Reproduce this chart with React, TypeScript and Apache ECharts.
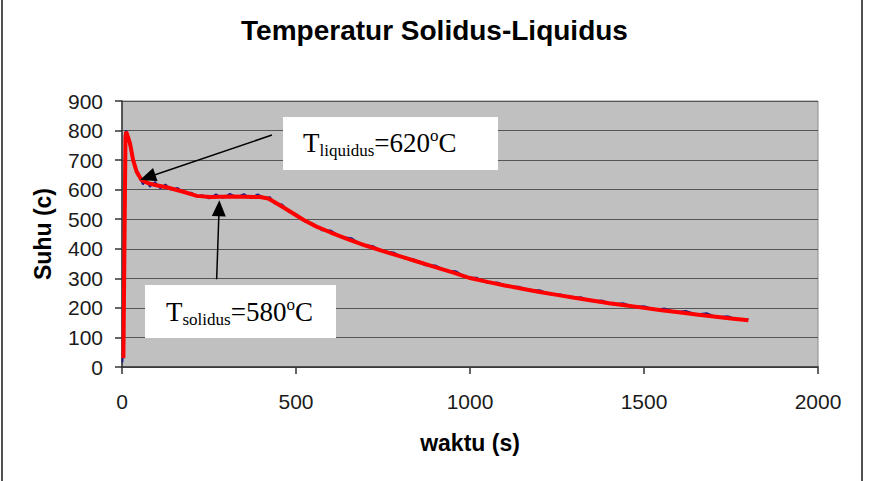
import React, { useEffect, useRef } from "react";
import * as echarts from "echarts";

// ---- Data ----
const redTime = [4, 7, 10, 12, 18, 23, 32, 42, 56, 75, 95, 128, 176, 215, 253, 320, 397, 420, 444, 483, 521, 559, 600, 650, 700, 750, 800, 850, 900, 950, 1000, 1050, 1100, 1150, 1200, 1250, 1300, 1350, 1400, 1450, 1500, 1550, 1600, 1650, 1700, 1750, 1800];
const redTemp = [30, 400, 780, 796, 775, 757, 700, 661, 633, 622, 616, 608, 593, 579, 575, 577, 575, 570, 554, 526, 498, 475, 455, 432, 411, 392, 374, 356, 338, 320, 301, 288, 276, 265, 254, 244, 234, 225, 216, 208, 200, 192, 185, 178, 171, 164, 158];

const blueTime = [1, 3, 6, 9, 12, 16, 22, 30, 40, 52, 60, 70, 80, 95, 110, 125, 140, 160, 180, 200, 215, 230, 250, 270, 290, 310, 330, 350, 370, 390, 410, 425, 440, 460, 480, 500, 525, 550, 575, 600, 630, 660, 690, 720, 750, 780, 810, 840, 870, 900, 930, 960, 990, 1020, 1050, 1080, 1110, 1140, 1170, 1200, 1230, 1260, 1290, 1320, 1350, 1380, 1410, 1440, 1470, 1500, 1530, 1560, 1590, 1620, 1650, 1680, 1710, 1740, 1770, 1800];
const blueTemp = [15, 40, 520, 785, 800, 782, 750, 712, 670, 640, 618, 632, 610, 626, 604, 618, 600, 606, 588, 590, 576, 582, 570, 584, 572, 586, 574, 585, 572, 584, 572, 575, 552, 550, 524, 518, 492, 484, 462, 462, 440, 436, 412, 410, 390, 388, 368, 364, 344, 344, 326, 324, 302, 302, 284, 286, 272, 272, 258, 260, 246, 246, 234, 236, 222, 225, 212, 216, 203, 206, 194, 198, 186, 190, 178, 182, 168, 172, 160, 162];

const xTicks = { min: 0, max: 2000, interval: 500 };
const yTicks = { min: 0, max: 900, interval: 100 };

// annotation arrows in data coordinates: [start, arrow-head centre]
const liquidusArrow = [[431, 785], [74, 642]];
const solidusArrow = [[272, 297], [279, 537]];

const SERIF = '"Liberation Serif", "Times New Roman", serif';
const SANS = '"Liberation Sans", Arial, sans-serif';

function measure(text: string, size: number): number {
  const c = document.createElement("canvas").getContext("2d");
  if (!c) return text.length * size * 0.5;
  c.font = `${size}px ${SERIF}`;
  return c.measureText(text).width;
}

type Part = { t: string; size: number; dy: number };

function labelTexts(x0: number, baseline: number, parts: Part[]) {
  const els: any[] = [];
  let x = x0;
  for (const p of parts) {
    els.push({
      type: "text",
      x,
      y: baseline + p.dy - 0.34 * p.size,
      z: 101,
      style: {
        text: p.t,
        fontSize: p.size,
        fontFamily: SERIF,
        fill: "#000",
        align: "left",
        verticalAlign: "middle",
      },
    });
    x += measure(p.t, p.size);
  }
  return els;
}

export default function App() {
  const ref = useRef<HTMLDivElement>(null);
  useEffect(() => {
    document.body.style.margin = "0";
    if (!ref.current) return;
    const chart = echarts.init(ref.current, undefined, { renderer: "svg" });

    const liq = labelTexts(303, 152, [
      { t: "T", size: 27, dy: 0 },
      { t: "liquidus", size: 17, dy: 4 },
      { t: "=620", size: 27, dy: 0 },
      { t: "o", size: 17, dy: -11 },
      { t: "C", size: 27, dy: 0 },
    ]);
    const sol = labelTexts(166, 321, [
      { t: "T", size: 27, dy: 0 },
      { t: "solidus", size: 17, dy: 4 },
      { t: "=580", size: 27, dy: 0 },
      { t: "o", size: 17, dy: -11 },
      { t: "C", size: 27, dy: 0 },
    ]);

    const axisCommon = {
      type: "value" as const,
      nameLocation: "middle" as const,
      nameTextStyle: { fontSize: 23, fontWeight: "bold" as const, color: "#000", fontFamily: SANS },
      axisLine: { show: true, onZero: false, lineStyle: { color: "#333", width: 1.5 } },
      axisTick: { show: true, length: 7, lineStyle: { color: "#333", width: 1.5 } },
      axisLabel: {
        fontSize: 21,
        color: "#1a1a1a",
        fontFamily: SANS,
        formatter: (v: number) => String(v),
      },
    };

    chart.setOption({
      animation: false,
      backgroundColor: "#ffffff",
      textStyle: { fontFamily: SANS },
      title: {
        text: "Temperatur Solidus-Liquidus",
        left: "center",
        top: 11,
        textStyle: { fontSize: 28, fontWeight: "bold", color: "#000", fontFamily: SANS },
      },
      grid: {
        left: 122,
        right: 51,
        top: 101,
        bottom: 114,
        show: true,
        backgroundColor: "#c0c0c0",
        borderColor: "#8a8a8a",
        borderWidth: 1,
      },
      xAxis: {
        ...axisCommon,
        ...xTicks,
        name: "waktu (s)",
        nameGap: 64,
        axisLabel: { ...axisCommon.axisLabel, margin: 24 },
        splitLine: { show: false },
      },
      yAxis: {
        ...axisCommon,
        ...yTicks,
        name: "Suhu (c)",
        nameGap: 68,
        axisLabel: { ...axisCommon.axisLabel, margin: 19 },
        splitLine: { show: true, lineStyle: { color: "#555", width: 1.2 } },
      },
      series: [
        {
          type: "line",
          name: "raw",
          data: blueTime.map((t, i) => [t, blueTemp[i]]),
          showSymbol: false,
          lineStyle: { color: "#1c1c8c", width: 1.8 },
          z: 2,
        },
        {
          type: "line",
          name: "smooth",
          data: redTime.map((t, i) => [t, redTemp[i]]),
          showSymbol: false,
          lineStyle: { color: "#ff0000", width: 4 },
          z: 3,
        },
        {
          type: "line",
          name: "arrows",
          data: [],
          z: 10,
          markLine: {
            silent: true,
            animation: false,
            symbol: ["none", "triangle"],
            symbolSize: [14, 16],
            label: { show: false },
            lineStyle: { color: "#000", width: 1.5, type: "solid" },
            itemStyle: { color: "#000" },
            emphasis: { disabled: true },
            data: [
              [{ coord: liquidusArrow[0] }, { coord: liquidusArrow[1] }],
              [{ coord: solidusArrow[0] }, { coord: solidusArrow[1] }],
            ],
          },
        },
      ],
      graphic: [
        {
          type: "rect",
          z: 100,
          shape: { x: 2, y: -5, width: 860, height: 491 },
          style: { fill: "none", stroke: "#505050", lineWidth: 2 },
        },
        {
          type: "rect",
          z: 100,
          shape: { x: 283, y: 117, width: 215, height: 53 },
          style: { fill: "#ffffff", stroke: "none" },
        },
        {
          type: "rect",
          z: 100,
          shape: { x: 145, y: 285, width: 191, height: 53 },
          style: { fill: "#ffffff", stroke: "none" },
        },
        ...liq,
        ...sol,
      ],
    });
    return () => chart.dispose();
  }, []);
  return <div ref={ref} style={{ width: 869, height: 481 }} />;
}
